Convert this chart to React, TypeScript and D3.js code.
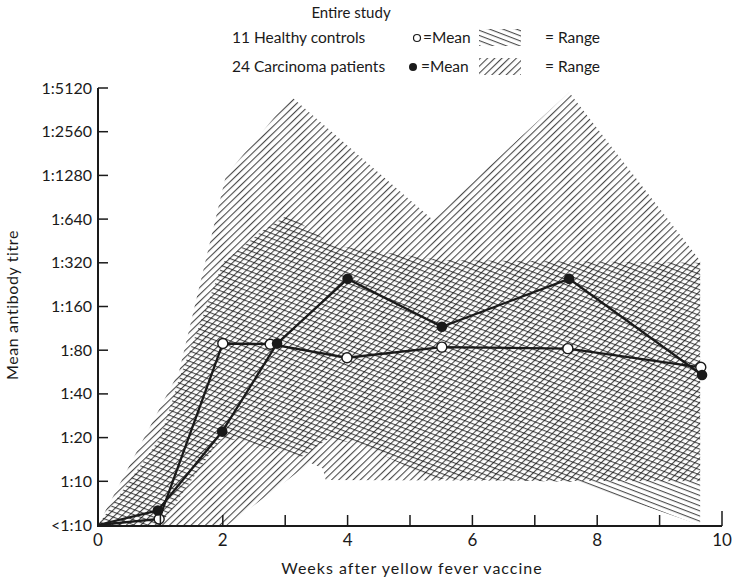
import React from "react";
import * as d3 from "d3";

// Mean titres (reciprocal; 5 = "<1:10")
const weeksHealthy = [0, 0.98, 2.0, 2.76, 3.99, 5.51, 7.53, 9.66];
const healthyMean = [5, 5.5, 89, 88, 71, 84, 82, 61];
const weeksCarcinoma = [0, 0.96, 1.99, 2.87, 4.0, 5.51, 7.55, 9.68];
const carcinomaMean = [5, 6.3, 22, 89, 248, 116, 248, 54];

// Range envelopes
const healthyUpperWeeks = [0, 1.0, 1.28, 2.0, 2.65, 3.05, 3.77, 5.5, 9.65];
const healthyUpper = [5, 20, 48, 320, 538, 686, 422, 334, 320];
const healthyLowerWeeks = [0, 1.0, 1.95, 2.25, 3.25, 3.72, 4.3, 4.95, 5.37, 7.65, 9.65];
const healthyLower = [5, 5, 19.3, 19.3, 14.6, 20, 17.2, 12.6, 10.4, 9.9, 5];

const carcinomaUpperWeeks = [0, 1.3, 2.05, 3.1, 5.35, 7.55, 9.65];
const carcinomaUpper = [5, 57, 1280, 4460, 640, 4780, 331];
const carcinomaLowerWeeks = [0, 2.08, 3.4, 3.6, 3.65, 9.65];
const carcinomaLower = [5, 5, 13.4, 12.3, 10.2, 10];

const yTickValues = [5, 10, 20, 40, 80, 160, 320, 640, 1280, 2560, 5120];
const yTickLabels = ["<1:10", "1:10", "1:20", "1:40", "1:80", "1:160", "1:320", "1:640", "1:1280", "1:2560", "1:5120"];
const xTickValues = [0, 1, 2, 3, 4, 5, 6, 7, 8, 9, 10];
const xTickLabels = [0, 2, 4, 6, 8, 10];

const FONT = "Lato, 'Open Sans', sans-serif";
const INK = "#1a1a1a";

export default function App() {
  const W = 733, H = 582;
  const x = d3.scaleLinear().domain([0, 10]).range([98, 722]);
  const y = d3.scaleLog().base(2).domain([5, 5120]).range([525, 88]);

  type P = [number, number];
  const zip = (ws: number[], vs: number[]): P[] => ws.map((w, i) => [w, vs[i]]);
  const line = d3.line<P>().x((d) => x(d[0])).y((d) => y(d[1]));

  const band = (uw: number[], uv: number[], lw: number[], lv: number[]) =>
    line([...zip(uw, uv), ...zip(lw, lv).reverse()]) + "Z";

  const healthyPath = band(healthyUpperWeeks, healthyUpper, healthyLowerWeeks, healthyLower);
  const carcinomaPath = band(carcinomaUpperWeeks, carcinomaUpper, carcinomaLowerWeeks, carcinomaLower);

  const hPts = zip(weeksHealthy, healthyMean);
  const cPts = zip(weeksCarcinoma, carcinomaMean);

  const x0 = x(0);
  const yBase = y(5);

  return (
    <svg width={W} height={H} style={{ position: "absolute", left: 0, top: 0, background: "#fff" }} fontFamily={FONT}>
      <defs>
        <pattern id="hatchH" patternUnits="userSpaceOnUse" width="20" height="4.8" patternTransform="rotate(21)">
          <line x1="0" y1="0.6" x2="20" y2="0.6" stroke="#111" strokeWidth="0.85" />
        </pattern>
        <pattern id="hatchC" patternUnits="userSpaceOnUse" width="20" height="5" patternTransform="rotate(-44)">
          <line x1="0" y1="0.6" x2="20" y2="0.6" stroke="#111" strokeWidth="0.85" />
        </pattern>
      </defs>

      {/* Legend */}
      <text x={351} y={18} fontSize={15} fill={INK} textAnchor="middle">Entire study</text>
      <text x={232} y={43} fontSize={15.5} fill={INK}>11 Healthy controls</text>
      <circle cx={417} cy={38} r={3.5} fill="#fff" stroke={INK} strokeWidth={1.2} />
      <text x={423} y={43} fontSize={15.5} fill={INK}>=Mean</text>
      <rect x={479} y={29} width={42} height={17} fill="url(#hatchH)" />
      <text x={545} y={43} fontSize={15.5} fill={INK}>=  Range</text>

      <text x={232} y={72} fontSize={15.5} fill={INK}>24 Carcinoma patients</text>
      <circle cx={413} cy={67} r={4} fill={INK} />
      <text x={421} y={72} fontSize={15.5} fill={INK}>=Mean</text>
      <rect x={479} y={58} width={42} height={17} fill="url(#hatchC)" />
      <text x={545} y={72} fontSize={15.5} fill={INK}>=  Range</text>

      {/* Range bands */}
      <path d={carcinomaPath} fill="url(#hatchC)" stroke="none" />
      <path d={healthyPath} fill="url(#hatchH)" stroke="none" />

      {/* Mean lines */}
      <path d={line(hPts) || ""} fill="none" stroke={INK} strokeWidth={2.3} />
      <path d={line(cPts) || ""} fill="none" stroke={INK} strokeWidth={2.3} />
      {hPts.slice(1).map((d, i) => (
        <circle key={"h" + i} cx={x(d[0])} cy={y(d[1])} r={5} fill="#fff" stroke={INK} strokeWidth={1.4} />
      ))}
      {cPts.slice(1).map((d, i) => (
        <circle key={"c" + i} cx={x(d[0])} cy={y(d[1])} r={5.3} fill={INK} />
      ))}

      {/* Y axis */}
      <line x1={x0} y1={y(5120)} x2={x0} y2={yBase + 1} stroke={INK} strokeWidth={2} />
      {yTickValues.map((v, i) => (
        <g key={"yt" + i}>
          {v !== 5 && <line x1={x0} y1={y(v)} x2={x0 + 10} y2={y(v)} stroke={INK} strokeWidth={1.5} />}
          <text x={x0 - 6} y={y(v) + 5.5} fontSize={16} fill={INK} textAnchor="end">{yTickLabels[i]}</text>
        </g>
      ))}
      <text transform={`translate(18,305) rotate(-90)`} fontSize={16} fill={INK} textAnchor="middle" letterSpacing={0.6}>Mean antibody titre</text>

      {/* X axis */}
      <line x1={x0 - 1} y1={yBase + 1} x2={x(10)} y2={yBase + 1} stroke={INK} strokeWidth={2} />
      {xTickValues.map((v) => (
        <line key={"xt" + v} x1={x(v)} y1={yBase + 1} x2={x(v)} y2={yBase - (v === 10 ? 14 : 10)} stroke={INK} strokeWidth={1.5} />
      ))}
      {xTickLabels.map((v) => (
        <text key={"xl" + v} x={x(v)} y={yBase + 21} fontSize={17} fill={INK} textAnchor="middle">{v}</text>
      ))}
      <text x={412} y={574} fontSize={16} fill={INK} textAnchor="middle" letterSpacing={1}>Weeks after yellow fever vaccine</text>
    </svg>
  );
}
